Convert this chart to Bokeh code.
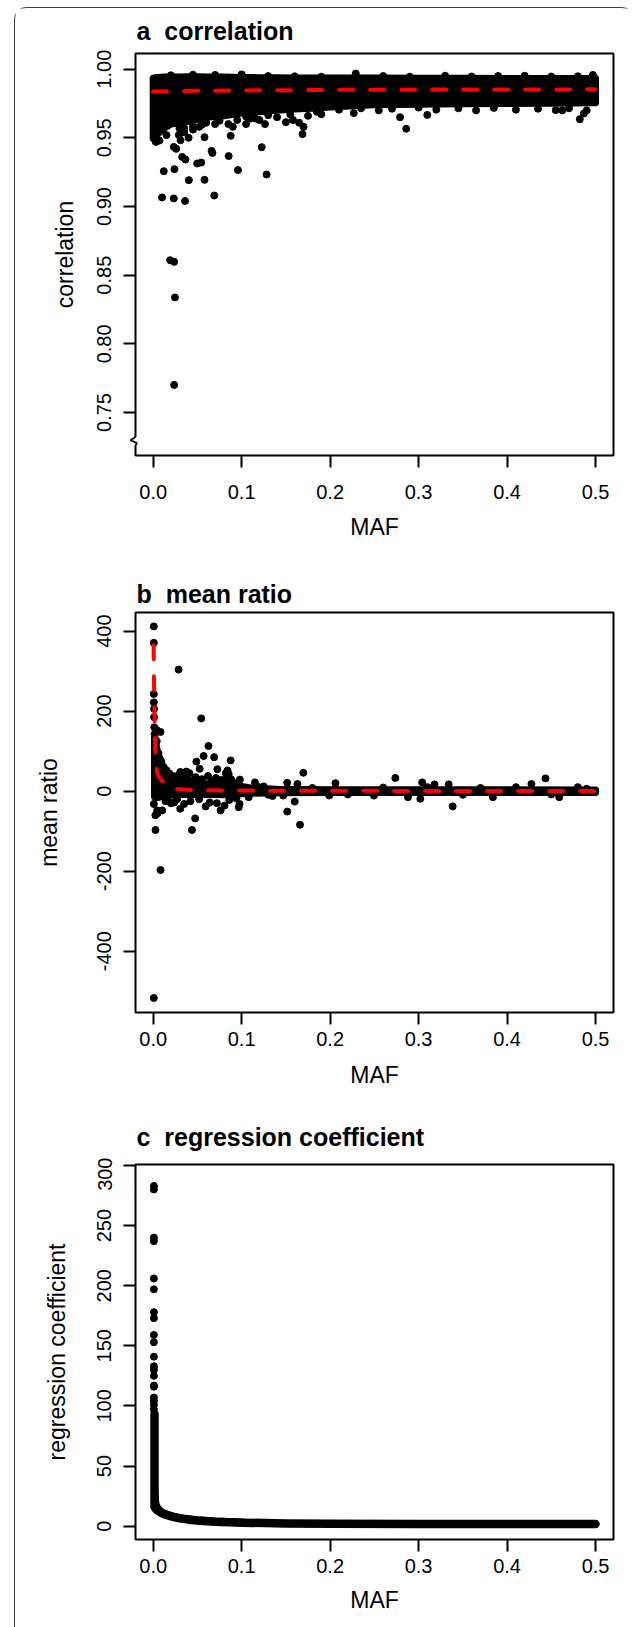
from bokeh.plotting import figure
from bokeh.layouts import column
from bokeh.models import Range1d, FixedTicker, PrintfTickFormatter
from bokeh.core.properties import value
from bokeh.embed import file_html
from bokeh.resources import INLINE

FONT = "Liberation Sans"

# ---------------- shared x axis ----------------
maf_ticks = [0.0, 0.1, 0.2, 0.3, 0.4, 0.5]
maf_tick_labels = ["0.0", "0.1", "0.2", "0.3", "0.4", "0.5"]

# ---------------- panel a: correlation ----------------
a_title = "a \u00a0correlation"
a_ticks = [0.75, 0.80, 0.85, 0.90, 0.95, 1.00]
a_tick_labels = ["0.75", "0.80", "0.85", "0.90", "0.95", "1.00"]
# dense core of the point cloud (upper / lower centres)
a_band_maf = [0.000, 0.004, 0.010, 0.020, 0.030, 0.040, 0.050, 0.060, 0.080, 0.100, 0.120,
              0.140, 0.160, 0.180, 0.200, 0.250, 0.300, 0.350, 0.400, 0.450, 0.500]
a_band_hi = [0.9935, 0.9940, 0.9942, 0.9942, 0.9942, 0.9944, 0.9944, 0.9942, 0.9942, 0.9940, 0.9938,
             0.9938, 0.9936, 0.9935, 0.9935, 0.9935, 0.9933, 0.9933, 0.9932, 0.9932, 0.9932]
a_band_lo = [0.9495, 0.9520, 0.9560, 0.9600, 0.9610, 0.9620, 0.9635, 0.9650, 0.9660, 0.9680, 0.9690,
             0.9700, 0.9710, 0.9715, 0.9725, 0.9740, 0.9745, 0.9748, 0.9750, 0.9752, 0.9755]
# individual SNPs outside / on the edge of the core
a_pt_maf = [0.0100, 0.0233, 0.0360, 0.0690, 0.0120, 0.0240, 0.0403, 0.0580, 0.0497, 0.0543,
            0.0328, 0.0365, 0.0660, 0.0670, 0.0853, 0.0958, 0.1227, 0.1282, 0.0233, 0.0260,
            0.0309, 0.0290, 0.0297, 0.0350, 0.0400, 0.0450, 0.0580, 0.0520, 0.0700, 0.0876,
            0.0900, 0.1050, 0.1100, 0.1264, 0.1200, 0.1500, 0.1580, 0.1688, 0.1700, 0.1650,
            0.2267, 0.2790, 0.2860, 0.3098, 0.4822, 0.4868, 0.4624,
            0.0192, 0.0237, 0.0246, 0.0237,
            0.020, 0.045, 0.070, 0.100, 0.130, 0.160, 0.190, 0.229, 0.260, 0.290, 0.330,
            0.360, 0.390, 0.420, 0.450, 0.480, 0.497,
            0.210, 0.235, 0.255, 0.270, 0.300, 0.320, 0.345, 0.365, 0.385, 0.410, 0.435,
            0.455, 0.470, 0.490, 0.105, 0.115, 0.130, 0.140, 0.155, 0.175, 0.185, 0.190,
            0.060, 0.075, 0.085, 0.095, 0.045, 0.055, 0.035, 0.015, 0.007, 0.003]
a_pt_cor = [0.9066, 0.9059, 0.9040, 0.9080, 0.9257, 0.9272, 0.9192, 0.9194, 0.9313, 0.9320,
            0.9361, 0.9342, 0.9405, 0.9390, 0.9367, 0.9265, 0.9432, 0.9233, 0.9434, 0.9420,
            0.9483, 0.9520, 0.9568, 0.9540, 0.9500, 0.9560, 0.9505, 0.9580, 0.9600, 0.9515,
            0.9580, 0.9600, 0.9640, 0.9600, 0.9630, 0.9614, 0.9630, 0.9527, 0.9580, 0.9610,
            0.9680, 0.9650, 0.9566, 0.9667, 0.9636, 0.9677, 0.9700,
            0.8609, 0.8597, 0.8338, 0.7701,
            0.9955, 0.9960, 0.9958, 0.9962, 0.9950, 0.9948, 0.9945, 0.9968, 0.9950, 0.9945, 0.9952,
            0.9946, 0.9950, 0.9952, 0.9946, 0.9948, 0.9958,
            0.9705, 0.9715, 0.9700, 0.9712, 0.9720, 0.9705, 0.9715, 0.9700, 0.9718, 0.9705, 0.9712,
            0.9702, 0.9715, 0.9700, 0.9655, 0.9640, 0.9665, 0.9650, 0.9670, 0.9660, 0.9690, 0.9672,
            0.9610, 0.9625, 0.9600, 0.9630, 0.9585, 0.9595, 0.9570, 0.9520, 0.9480, 0.9470]
a_fit_maf = [0.0, 0.05, 0.1, 0.2, 0.3, 0.4, 0.5]
a_fit_cor = [0.9838, 0.9842, 0.9845, 0.9849, 0.9851, 0.9852, 0.9853]
a_break_cor = [0.7322, 0.7298, 0.7277, 0.7262]   # where the y axis is broken

# ---------------- panel b: mean ratio ----------------
b_title = "b \u00a0mean ratio"
b_ticks = [-400, -200, 0, 200, 400]
b_tick_labels = ["-400", "-200", "0", "200", "400"]
b_band_maf = [0.0015, 0.003, 0.005, 0.008, 0.012, 0.016, 0.020, 0.025, 0.035, 0.05, 0.065, 0.08,
              0.095, 0.11, 0.14, 0.2, 0.3, 0.4, 0.5]
b_band_hi = [140, 120, 95, 80, 55, 40, 32, 28, 24, 20, 18, 22, 14, 8, 5, 3.5, 3.5, 3.5, 3]
b_band_lo = [-15, -16, -16, -14, -12, -11, -10, -9, -8, -8, -8, -9, -7, -5, -4, -3.5, -3.5, -3.5, -3]
b_pt_maf = [0.0007, 0.0007, 0.0007, 0.0007, 0.0010, 0.0010, 0.0012, 0.0045, 0.0083, 0.0015,
            0.0287, 0.0543, 0.0625, 0.0570, 0.0689, 0.0488, 0.0876, 0.0725, 0.0525, 0.0306,
            0.0374, 0.0410, 0.0280, 0.0840, 0.0853, 0.0830, 0.0980, 0.1697, 0.1515, 0.1630,
            0.1150, 0.2060, 0.2737, 0.3040, 0.3180, 0.3340, 0.4275, 0.4434, 0.4800,
            0.0026, 0.0083, 0.0007, 0.0438, 0.0474, 0.0306, 0.0237, 0.0593, 0.0762, 0.0807,
            0.0967, 0.0976, 0.1515, 0.1600, 0.1660, 0.1470, 0.1990, 0.2880, 0.3020, 0.3385,
            0.3840, 0.4590, 0.2495, 0.0007, 0.0045, 0.0102, 0.0158,
            0.120, 0.130, 0.180, 0.220, 0.260, 0.310, 0.350, 0.370, 0.410, 0.450, 0.490,
            0.012, 0.015, 0.018, 0.022, 0.026, 0.033, 0.038, 0.044, 0.048, 0.055,
            0.062, 0.066, 0.071, 0.077, 0.082, 0.088, 0.092, 0.014, 0.020, 0.027,
            0.035, 0.042, 0.052, 0.064, 0.072, 0.086, 0.094, 0.108, 0.125, 0.135,
            0.006, 0.009, 0.004, 0.0025, 0.005]
b_pt_ratio = [412, 371, 243, 222, 206, 185, 160, 152, 148, 143,
              304, 182, 113, 88, 85, 74, 77, 55, 56, 48,
              49, 45, 39, 52, 43, 35, 29, 46, 21, 18,
              22, 20, 33, 22, 17, 17, 18, 32, 10,
              -97, -197, -517, -97, -68, -44, -28, -38, -48, -36,
              -40, -32, -51, -26, -84, -11, -11, -15, -19, -38,
              -15, -15, -11, -32, -48, -48, -23,
              10, -9, 8, -8, 9, 10, -9, 8, 10, -8, 6,
              60, 52, 45, 38, 30, 42, 32, 26, 35, 30,
              38, 25, 33, 28, 45, 30, 20, -25, -30, -20,
              -32, -25, -20, -28, -30, -22, -18, -15, 12, -12,
              95, 75, 125, -60, -55]
b_fit_maf = [0.0005, 0.0008, 0.0012, 0.0017, 0.0023, 0.0030, 0.0045, 0.0065, 0.0100, 0.0140,
             0.0190, 0.0270, 0.0370, 0.0550, 0.0800, 0.1200, 0.2000, 0.3000, 0.4000, 0.5000]
b_fit_ratio = [365, 300, 230, 165, 110, 68, 47, 36, 26, 16,
               9, 5.5, 3.5, 2.5, 1.8, 1.3, 0.9, 0.7, 0.5, 0.4]

# ---------------- panel c: regression coefficient ----------------
c_title = "c \u00a0regression coefficient"
c_ticks = [0, 50, 100, 150, 200, 250, 300]
c_tick_labels = ["0", "50", "100", "150", "200", "250", "300"]
c_ridge_maf = [0.0015, 0.0015, 0.004, 0.008, 0.013, 0.020, 0.030, 0.040, 0.053, 0.070,
               0.100, 0.150, 0.200, 0.300, 0.400, 0.500]
c_ridge_coef = [93, 16, 13.5, 11.5, 9.8, 8.2, 6.5, 5.4, 4.4, 3.6,
                2.9, 2.3, 2.0, 1.8, 1.7, 1.7]
c_knee_maf = [0.0015, 0.003, 0.005, 0.008, 0.012, 0.018, 0.026, 0.036, 0.050, 0.070, 0.100]
c_knee_coef = [30, 19, 15.5, 13, 11, 9.3, 7.8, 6.5, 5.3, 4.3, 3.4]
c_pt_maf = [0.0008] * 20
c_pt_coef = [283, 280, 240, 237, 206, 197, 178, 173, 159, 153,
             141, 133, 130, 125, 117, 116, 107, 104, 101, 97]

X_RANGE = (-0.02, 0.5203)
FIG_W, MB_L, MB_R = 618, 120, 20


def title_fig(text, height, baseline):
    """A strip holding the bold panel title, left aligned with the plot frame below."""
    t = figure(width=FIG_W, height=height, output_backend="svg", toolbar_location=None,
               title=None, x_axis_type=None, y_axis_type=None,
               x_range=Range1d(*X_RANGE), y_range=Range1d(height, 0),
               min_border_left=MB_L, min_border_right=MB_R, min_border_top=0, min_border_bottom=0)
    t.outline_line_color = None
    t.background_fill_color = "white"
    t.border_fill_color = "white"
    t.text(x=[X_RANGE[0]], y=[baseline], text=[text], x_offset=1,
           text_font=value(FONT), text_font_size="25px", text_font_style="bold",
           text_color="black", text_align="left", text_baseline="alphabetic")
    return t


def make_fig(ylabel, y_range, yticks, ylabels, yfmt, height, mb_top, mb_bottom,
             ylab_standoff, xlab_standoff, xmaj_standoff):
    p = figure(width=FIG_W, height=height, output_backend="svg", toolbar_location=None,
               title=None, x_range=Range1d(*X_RANGE), y_range=Range1d(*y_range),
               min_border_left=MB_L, min_border_right=MB_R,
               min_border_top=mb_top, min_border_bottom=mb_bottom)
    p.grid.visible = False
    p.outline_line_color = "black"
    p.outline_line_width = 2
    p.outline_line_alpha = 1.0
    p.background_fill_color = "white"
    p.border_fill_color = "white"

    xax = p.below[0]
    xax.ticker = FixedTicker(ticks=maf_ticks)
    xax.formatter = PrintfTickFormatter(format="%.1f")
    xax.major_label_overrides = dict(zip(maf_ticks, maf_tick_labels))
    xax.axis_label = "MAF"
    xax.major_label_standoff = xmaj_standoff
    xax.axis_label_standoff = xlab_standoff

    yax = p.left[0]
    yax.ticker = FixedTicker(ticks=yticks)
    yax.formatter = PrintfTickFormatter(format=yfmt)
    yax.major_label_overrides = dict(zip(yticks, ylabels))
    yax.axis_label = ylabel
    yax.major_label_orientation = "vertical"
    yax.major_label_standoff = 12
    yax.axis_label_standoff = ylab_standoff

    for ax in (xax, yax):
        ax.axis_line_color = None
        ax.major_tick_line_color = "black"
        ax.major_tick_line_width = 2
        ax.major_tick_out = 12
        ax.major_tick_in = 0
        ax.minor_tick_line_color = None
        ax.major_label_text_font = FONT
        ax.major_label_text_font_size = "20px"
        ax.major_label_text_color = "black"
        ax.axis_label_text_font = FONT
        ax.axis_label_text_font_size = "23px"
        ax.axis_label_text_font_style = "normal"
        ax.axis_label_text_color = "black"
    return p


PT = 7  # marker diameter (px)

# page rows: ta 8-48 | pa 48-550 | tb 550-607 | pb 607-1100 | tc 1100-1157 | pc 1157-1627
# ---- a ----
ta = title_fig(a_title, height=40, baseline=22.5)
pa = make_fig("correlation", (0.7187, 1.0114), a_ticks, a_tick_labels, "%.2f",
              height=502, mb_top=5, mb_bottom=95,
              ylab_standoff=17, xlab_standoff=12, xmaj_standoff=17)
pa.patch(x=a_band_maf + a_band_maf[::-1], y=a_band_hi + a_band_lo[::-1],
         fill_color="black", line_color="black", line_width=PT, line_join="round")
pa.scatter(a_pt_maf, a_pt_cor, marker="circle", size=PT, color="black")
pa.line(a_fit_maf, a_fit_cor, line_color="#ff0000", line_width=4, line_dash="14 17", line_cap="round")
# axis-break zigzag on the left frame edge
x0 = pa.x_range.start
px = (pa.x_range.end - pa.x_range.start) / (FIG_W - MB_L - MB_R)
pa.line([x0, x0], [a_break_cor[0], a_break_cor[-1]], line_color="white", line_width=4, level="overlay")
pa.line([x0, x0 - 5 * px, x0 + 1.5 * px, x0], a_break_cor,
        line_color="black", line_width=1.8, level="overlay")

# ---- b ----
tb = title_fig(b_title, height=57, baseline=43.3)
pb = make_fig("mean ratio", (-553.3, 446.7), b_ticks, b_tick_labels, "%d",
              height=493, mb_top=5, mb_bottom=88,
              ylab_standoff=33, xlab_standoff=13, xmaj_standoff=7)
pb.patch(x=b_band_maf + b_band_maf[::-1], y=b_band_hi + b_band_lo[::-1],
         fill_color="black", line_color="black", line_width=PT, line_join="round")
pb.scatter(b_pt_maf, b_pt_ratio, marker="circle", size=PT, color="black")
pb.line(b_fit_maf, b_fit_ratio, line_color="#ff0000", line_width=4, line_dash="14 17", line_cap="round")

# ---- c ----
tc = title_fig(c_title, height=57, baseline=36.5)
pc = make_fig("regression coefficient", (-11.1, 300.8), c_ticks, c_tick_labels, "%d",
              height=470, mb_top=7, mb_bottom=88,
              ylab_standoff=25, xlab_standoff=11, xmaj_standoff=7)
pc.line(c_ridge_maf, c_ridge_coef, line_color="black", line_width=8.5, line_join="round", line_cap="round")
pc.line(c_knee_maf, c_knee_coef, line_color="black", line_width=7, line_join="round", line_cap="round")
pc.scatter(c_pt_maf, c_pt_coef, marker="circle", size=PT, color="black")

layout = column(ta, pa, tb, pb, tc, pc, spacing=0, margin=(8, 0, 0, 15),
                styles={"outline": "1.6px solid #404040", "border-radius": "11px 11px 0 0"})

open("out.html", "w").write(file_html(layout, INLINE, title="MAF panels"))
